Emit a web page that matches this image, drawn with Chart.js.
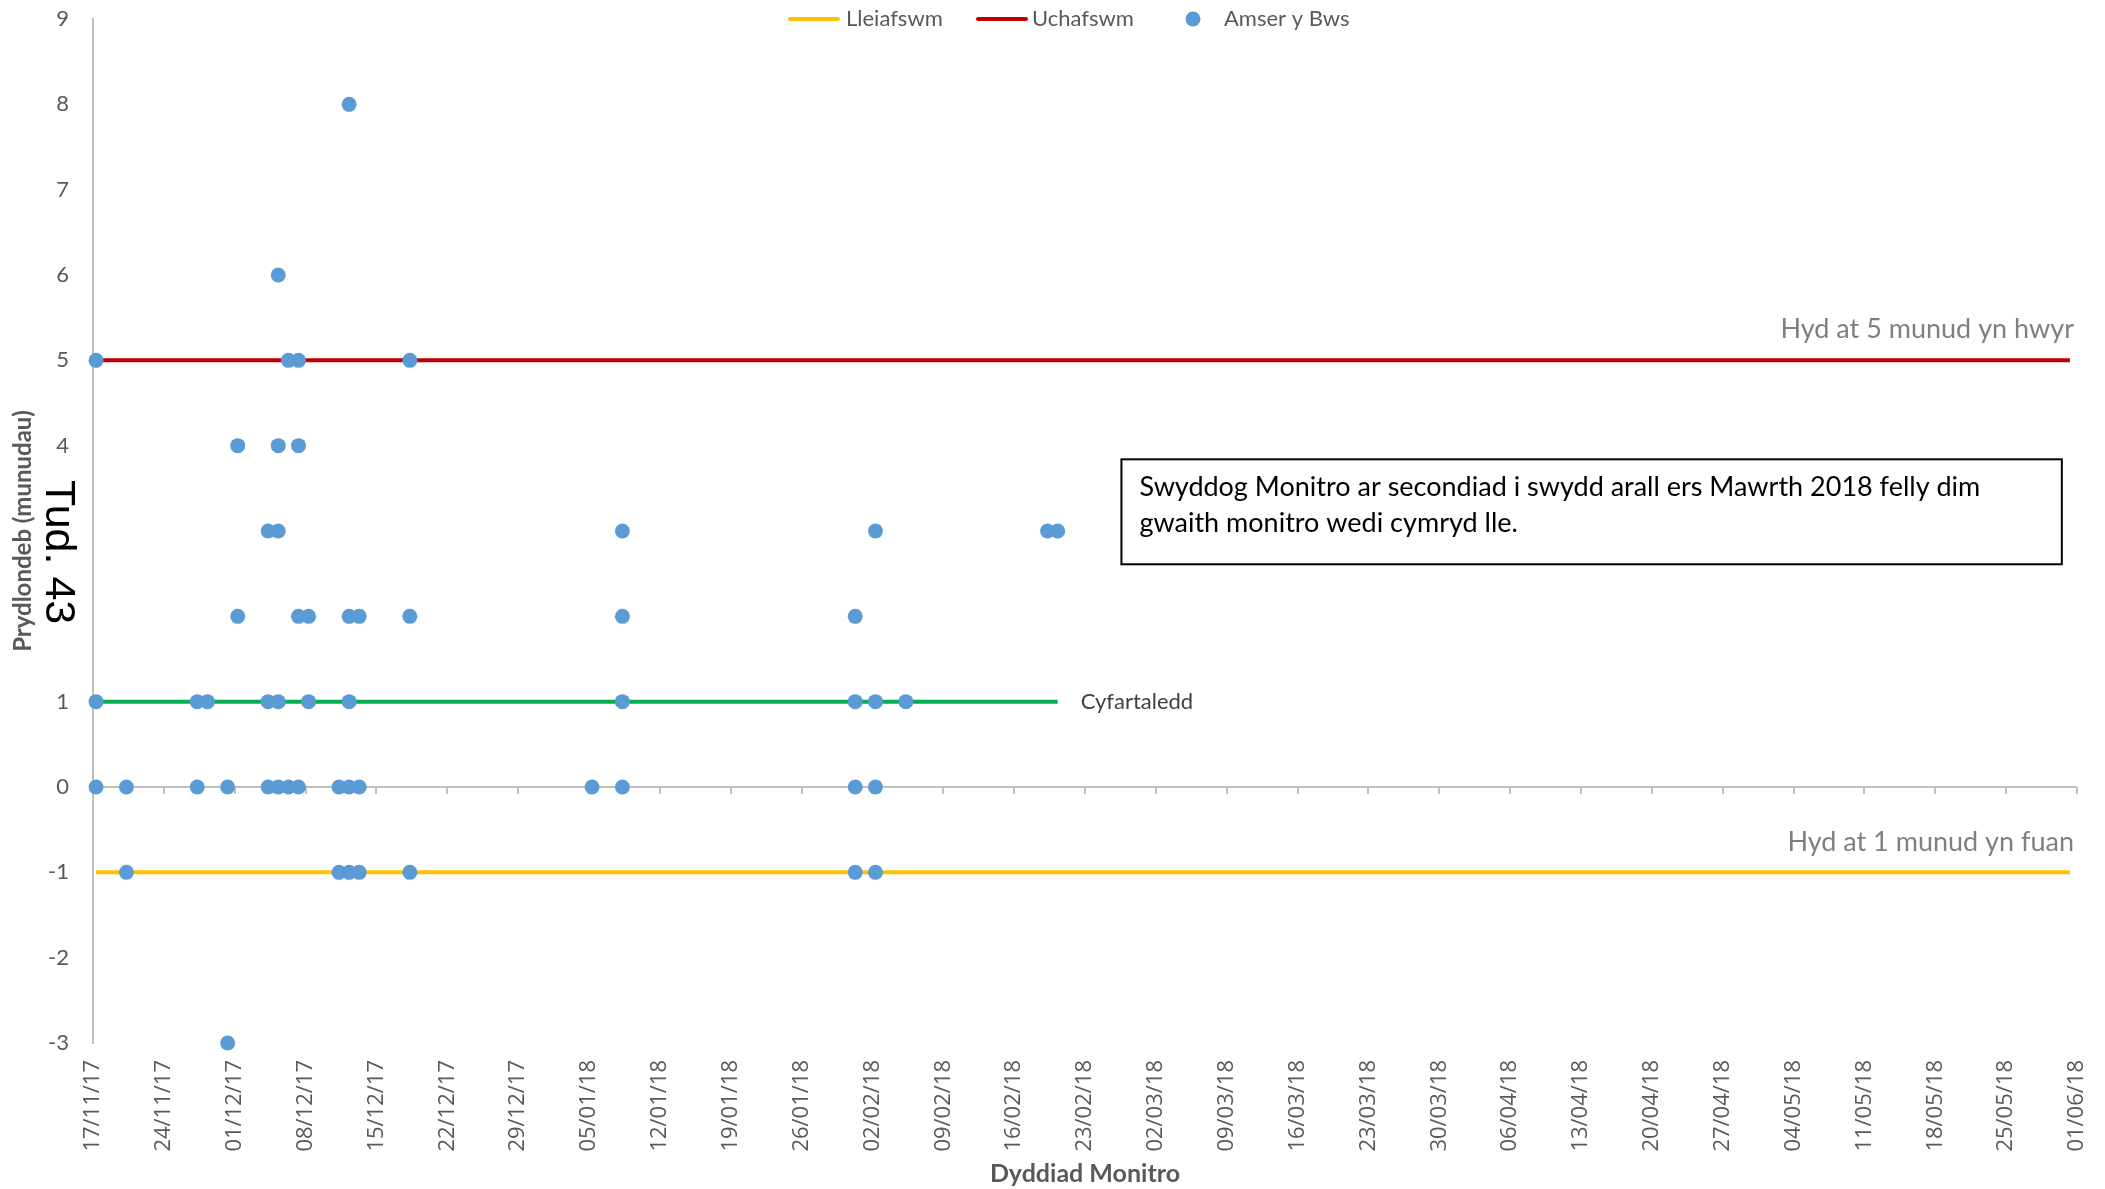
<!DOCTYPE html>
<html><head><meta charset="utf-8">
<script src="https://cdn.jsdelivr.net/npm/chart.js@4.4.1/dist/chart.umd.min.js"></script>
<style>html,body{margin:0;padding:0;background:#fff;}#wrap{width:2105px;height:1189px;}</style>
</head><body><div id="wrap"><canvas id="c" width="2105" height="1189"></canvas></div>
<script>
// ---- data ----
const tickLabels = ['17/11/17','24/11/17','01/12/17','08/12/17','15/12/17','22/12/17','29/12/17',
  '05/01/18','12/01/18','19/01/18','26/01/18','02/02/18','09/02/18','16/02/18','23/02/18',
  '02/03/18','09/03/18','16/03/18','23/03/18','30/03/18','06/04/18','13/04/18','20/04/18',
  '27/04/18','04/05/18','11/05/18','18/05/18','25/05/18','01/06/18'];
const busDates = [
  '12/12/17',
  '05/12/17',
  '17/11/17','06/12/17','07/12/17','18/12/17',
  '01/12/17','05/12/17','07/12/17',
  '04/12/17','05/12/17','08/01/18','02/02/18','19/02/18','20/02/18',
  '01/12/17','07/12/17','08/12/17','12/12/17','13/12/17','18/12/17','08/01/18','31/01/18',
  '17/11/17','27/11/17','28/11/17','04/12/17','05/12/17','08/12/17','12/12/17','08/01/18','31/01/18','02/02/18','05/02/18',
  '17/11/17','20/11/17','27/11/17','30/11/17','04/12/17','05/12/17','06/12/17','07/12/17','11/12/17','12/12/17','13/12/17','05/01/18','08/01/18','31/01/18','02/02/18',
  '20/11/17','11/12/17','12/12/17','13/12/17','18/12/17','31/01/18','02/02/18',
  '30/11/17'];
const busValues = [
  8,
  6,
  5,5,5,5,
  4,4,4,
  3,3,3,3,3,3,
  2,2,2,2,2,2,2,2,
  1,1,1,1,1,1,1,1,1,1,1,
  0,0,0,0,0,0,0,0,0,0,0,0,0,0,0,
  -1,-1,-1,-1,-1,-1,-1,
  -3];
const minDates = ['17/11/17','31/05/18'];
const minValues = [-1,-1];
const maxDates = ['17/11/17','31/05/18'];
const maxValues = [5,5];
const avgDates = ['17/11/17','20/02/18'];
const avgValues = [1,1];
const yMin = -3, yMax = 9;

// ---- helpers ----
function dayIndex(s){ // whole days since first tick date
  const [d,m,y] = s.split('/').map(Number);
  const [d0,m0,y0] = tickLabels[0].split('/').map(Number);
  return Math.round((Date.UTC(2000+y,m-1,d) - Date.UTC(2000+y0,m0-1,d0))/86400000);
}
const mid = s => dayIndex(s) + 0.3; // marks sit slightly inside their day slot
const pts = (ds, vs) => ds.map((d,i)=>({x:mid(d), y:vs[i]}));

const GREY = '#595959';
const overlay = {
  id:'overlay',
  beforeDatasetsDraw(chart){
    const {ctx, scales:{x,y}, chartArea:a} = chart;
    const py = Math.round(y.getPixelForValue(0));
    ctx.save();
    ctx.strokeStyle = '#BFBFBF'; ctx.lineWidth = 2;
    ctx.beginPath();
    ctx.moveTo(a.left, py); ctx.lineTo(a.right, py);
    x.ticks.forEach(t => { const px = Math.round(x.getPixelForValue(t.value)); ctx.moveTo(px, py); ctx.lineTo(px, py+7); });
    ctx.stroke();
    ctx.restore();
  },
  afterDraw(chart){
    const {ctx, scales:{x,y}, chartArea:a, data} = chart;
    ctx.save();
    // legend
    ctx.font = '22px Lato'; ctx.textBaseline = 'middle'; ctx.fillStyle = GREY;
    const ly = 19;
    const items = [
      {ds:data.datasets[0], sx:788, tx:846},
      {ds:data.datasets[1], sx:976, tx:1032},
      {ds:data.datasets[2], sx:1167, tx:1224, dot:true}
    ];
    items.forEach(it => {
      if (it.dot) {
        ctx.fillStyle = it.ds.backgroundColor;
        ctx.beginPath(); ctx.arc(it.sx+26, ly, 7.5, 0, Math.PI*2); ctx.fill();
      } else {
        ctx.strokeStyle = it.ds.borderColor; ctx.lineWidth = 4; ctx.lineCap='round';
        ctx.beginPath(); ctx.moveTo(it.sx+2, ly); ctx.lineTo(it.sx+50, ly); ctx.stroke();
      }
      ctx.fillStyle = GREY; ctx.textAlign = 'left';
      ctx.fillText(it.ds.label, it.tx, ly);
    });
    // right-hand line labels
    ctx.fillStyle = '#7F7F7F'; ctx.textAlign = 'right'; ctx.textBaseline = 'alphabetic';
    ctx.font = '27px Lato';
    ctx.fillText('Hyd at 5 munud yn hwyr', a.right - 3, y.getPixelForValue(5) - 22);
    ctx.fillText('Hyd at 1 munud yn fuan', a.right - 3, y.getPixelForValue(-1) - 21);
    // average label
    ctx.fillStyle = '#404040'; ctx.textAlign = 'left'; ctx.font = '22px Lato';
    ctx.fillText(data.datasets[3].label, x.getPixelForValue(mid(avgDates[1])) + 23, y.getPixelForValue(1) + 7);
    // note box
    const bx = x.getPixelForValue(101.6), bx2 = x.getPixelForValue(194.5);
    const by = y.getPixelForValue(3.84), by2 = y.getPixelForValue(2.61);
    ctx.fillStyle = '#fff'; ctx.fillRect(bx, by, bx2-bx, by2-by);
    ctx.strokeStyle = '#000'; ctx.lineWidth = 2; ctx.strokeRect(bx, by, bx2-bx, by2-by);
    ctx.fillStyle = '#000'; ctx.font = '27px Lato';
    ctx.fillText('Swyddog Monitro ar secondiad i swydd arall ers Mawrth 2018 felly dim', bx + 18, by + 37);
    ctx.fillText('gwaith monitro wedi cymryd lle.', bx + 18, by + 73);
    // page stamp
    ctx.translate(46, 480); ctx.rotate(Math.PI/2);
    ctx.font = '43px "Liberation Sans"'; ctx.textBaseline = 'alphabetic'; ctx.textAlign = 'left';
    const w = ctx.measureText('Tud. 43').width;
    ctx.fillStyle = '#fff'; ctx.fillRect(0, -33, w, 35);
    ctx.fillStyle = '#000'; ctx.fillText('Tud. 43', 0, 0);
    ctx.restore();
  }
};

new Chart(document.getElementById('c'), {
  type:'scatter',
  data:{datasets:[
    {label:'Lleiafswm', data:pts(minDates,minValues), showLine:true, borderColor:'#FFC000', backgroundColor:'#FFC000', borderWidth:4, pointRadius:0, order:1},
    {label:'Uchafswm', data:pts(maxDates,maxValues), showLine:true, borderColor:'#C00000', backgroundColor:'#C00000', borderWidth:4, pointRadius:0, order:1},
    {label:'Amser y Bws', data:pts(busDates,busValues), showLine:false, backgroundColor:'#5B9BD5', borderColor:'#5B9BD5', borderWidth:0, pointRadius:7.5, order:0, clip:false},
    {label:'Cyfartaledd', data:pts(avgDates,avgValues), showLine:true, borderColor:'#00B050', backgroundColor:'#00B050', borderWidth:4, pointRadius:0, order:1}
  ]},
  options:{
    responsive:false, animation:false, devicePixelRatio:1,
    layout:{padding:{top:19, right:28, left:0, bottom:0}},
    plugins:{legend:{display:false}, tooltip:{enabled:false}},
    scales:{
      x:{type:'linear', min:0, max:dayIndex(tickLabels[tickLabels.length-1]),
        afterBuildTicks: s => { s.ticks = tickLabels.map(t => ({value: dayIndex(t)})); },
        afterFit: s => { s.height = 146; s.paddingLeft = 0; s.paddingRight = 0; },
        ticks:{autoSkip:false, minRotation:90, maxRotation:90, padding:17, color:GREY,
          font:{family:'Open Sans', size:22}, callback:(v,i)=>tickLabels[i]},
        grid:{display:false, drawTicks:false}, border:{display:false},
        title:{display:true, text:'Dyddiad Monitro', color:GREY, font:{family:'Lato', size:25, weight:'bold'}, padding:{top:0, bottom:0}}
      },
      y:{min:yMin, max:yMax,
        afterFit: s => { s.width = 93; s.paddingTop = 0; s.paddingBottom = 0; },
        ticks:{stepSize:1, padding:24, color:GREY, font:{family:'Lato', size:22}},
        grid:{display:false, drawTicks:false}, border:{display:true, color:'#BFBFBF', width:2},
        title:{display:true, text:'Prydlondeb (munudau)', color:GREY, font:{family:'Lato', size:24, weight:'bold'}, padding:{top:9, bottom:0}}
      }
    }
  },
  plugins:[overlay]
});
</script></body></html>
